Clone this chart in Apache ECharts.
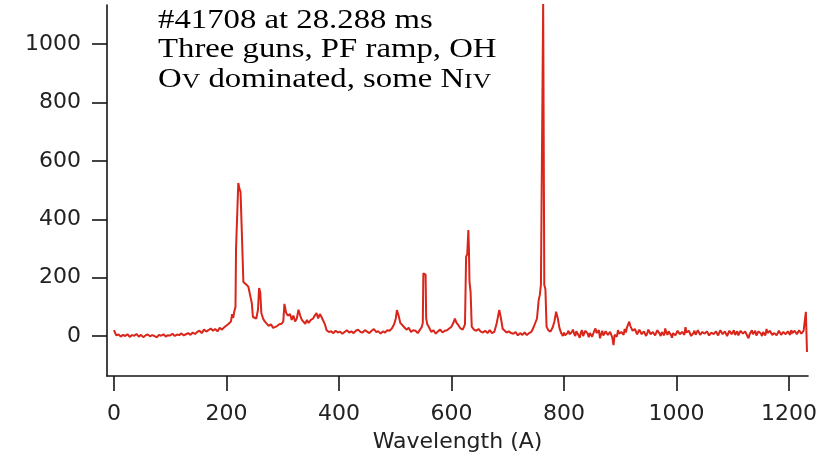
<!DOCTYPE html>
<html><head><meta charset="utf-8">
<script src="https://cdn.jsdelivr.net/npm/echarts@6/dist/echarts.min.js"></script>
<style>html,body{margin:0;padding:0;background:#fff}#c{width:825px;height:464px}</style>
</head><body><div id="c"></div>
<script>
// Wavelength (A) sample positions
const wavelength = [
  0,4,8,12,16,20,24,28,32,36,
  40,44,48,52,56,60,64,68,72,76,
  80,84,88,92,96,100,104,108,112,116,
  120,124,128,132,136,140,144,148,
  152,156,160,164,168,172,176,180,184,188,
  192,196,200,204,208,210,212,214,216,
  217,219,221,223,225,227,229,230,233,236,
  239,242,245,247,250,253,256,258,260,262,
  265,268,271,275,279,283,286,290,294,298,
  301,303,306,309,313,316,319,322,325,328,
  331,334,337,340,343,346,350,354,357,360,
  363,366,369,372,375,378,
  382,386,390,394,398,402,406,410,414,418,
  422,426,430,434,438,442,446,450,454,458,
  462,466,470,474,478,482,486,490,494,498,
  501,503,506,509,512,516,520,524,528,532,
  536,540,544,547,549,
  550,552,554,555,557,560,564,568,572,576,
  580,584,588,592,596,600,604,606,609,612,
  616,620,624,626,628,630,631,632,634,636,
  640,644,648,652,656,660,664,668,672,676,
  680,683,685,688,691,694,698,702,706,710,
  714,718,722,726,730,734,738,742,746,749,
  752,755,757,759,761,763,765,767,769,772,
  776,780,783,786,789,792,795,798,
  800,802,804,806,808,810,812,814,816,818,
  820,822,824,826,828,830,832,834,836,838,
  840,842,844,846,848,850,852,854,856,858,
  860,862,864,866,868,870,872,874,876,878,
  880,882,884,886,888,890,892,894,896,898,
  900,902,904,906,908,910,912,914,916,918,
  920,922,924,926,928,930,932,934,936,938,
  940,942,944,946,948,950,952,954,956,958,
  960,962,964,966,968,970,972,974,976,978,
  980,982,984,986,988,990,992,994,996,998,
  1000,1002,1004,1006,1008,1010,1012,1014,1016,1018,
  1020,1022,1024,1026,1028,1030,1032,1034,1036,1038,
  1040,1042,1044,1046,1048,1050,1052,1054,1056,1058,
  1060,1062,1064,1066,1068,1070,1072,1074,1076,1078,
  1080,1082,1084,1086,1088,1090,1092,1094,1096,1098,
  1100,1102,1104,1106,1108,1110,1112,1114,1116,1118,
  1120,1122,1124,1126,1128,1130,1132,1134,1136,1138,
  1140,1142,1144,1146,1148,1150,1152,1154,1156,1158,
  1160,1162,1164,1166,1168,1170,1172,1174,1176,1178,
  1180,1182,1184,1186,1188,1190,1192,1194,1196,1198,
  1200,1202,1204,1206,1208,1210,1212,1214,1216,1218,
  1220,1222,1224,1226,1228,1230,1232
];
// Intensity at each wavelength
const intensity = [
  20,2,5,-2,4,0,6,-3,3,1,
  7,-2,4,-4,2,5,-1,3,0,-5,
  4,1,6,-2,3,2,8,0,5,3,
  9,2,6,10,4,12,7,14,
  18,10,22,15,20,26,18,24,16,28,
  22,30,36,42,50,75,62,85,100,
  300,300,524,505,493,373,250,185,180,175,
  168,140,113,65,70,60,90,164,150,79,
  60,50,45,35,40,28,27,34,40,42,
  50,110,80,70,75,55,70,50,60,90,
  70,55,50,42,55,45,55,60,70,79,
  60,75,65,60,40,20,
  14,16,10,18,12,15,8,14,20,12,
  16,10,18,22,14,12,20,15,10,18,
  24,14,16,8,16,12,20,18,26,40,
  60,89,70,45,40,30,22,28,14,20,
  18,10,22,30,45,
  215,219,210,60,40,30,14,20,8,16,
  22,12,18,20,26,32,48,60,45,38,
  26,22,40,272,280,363,300,186,150,32,
  22,18,24,15,12,18,10,20,10,14,
  40,70,89,60,25,20,12,16,10,8,
  14,2,10,4,12,3,10,14,30,35,
  60,123,140,175,170,1140,175,160,32,20,
  15,30,50,83,60,27,10,0,
  12,2,-2,10,18,6,4,14,22,8,
  0,16,14,2,-6,12,20,0,6,18,
  24,8,-4,10,16,-2,2,18,26,10,
  8,20,-8,6,18,2,4,16,22,4,
  0,14,12,-6,-31,4,10,-2,20,8,
  2,14,16,4,24,12,30,36,49,34,
  28,18,14,24,20,6,8,22,18,6,
  4,16,14,0,10,22,20,6,2,14,
  16,2,6,20,22,8,0,14,12,2,
  26,12,4,16,18,4,-6,10,14,2,
  8,18,22,6,2,14,16,4,30,12,
  6,18,12,0,-4,10,18,4,8,20,
  14,4,2,14,20,8,6,16,10,2,
  -2,12,16,6,4,16,12,2,8,20,
  18,6,2,16,14,0,6,18,20,6,
  10,20,4,10,16,2,8,18,22,8,
  2,16,14,0,-8,6,12,20,6,12,
  18,2,4,16,20,8,0,14,12,2,
  24,10,6,18,14,4,-2,10,16,2,
  8,18,12,4,2,14,18,6,6,16,
  14,4,20,10,4,18,16,6,8,20,
  22,8,10,18,14,83,-55
];
const xTicks = [0, 200, 400, 600, 800, 1000, 1200];
const yTicks = [0, 200, 400, 600, 800, 1000];
const xTitle = 'Wavelength (A)';
const noteLines = [
  '{n|#41708 at 28.288 ms}',
  '{n|Three guns, PF ramp, OH}',
  '{n|O}{s|V}{n| dominated, some N}{s|IV}'
];

const chart = echarts.init(document.getElementById('c'), null, {renderer: 'canvas'});
const points = wavelength.map((w, i) => [w, intensity[i]]);
const axisColor = '#151515';
const labelFont = {fontFamily: 'DejaVu Sans', fontSize: 22, color: '#222', formatter: v => String(v)};

chart.setOption({
  animation: false,
  backgroundColor: '#fff',
  grid: {left: 107, right: 17, top: 5, bottom: 88, containLabel: false},
  xAxis: {
    type: 'value', min: -12.4, max: 1233.8,
    axisLine: {show: true, onZero: false, lineStyle: {color: axisColor, width: 1.6}},
    axisTick: {show: true, inside: false, length: 15, customValues: xTicks, lineStyle: {color: axisColor, width: 1.6}},
    axisLabel: Object.assign({customValues: xTicks, margin: 27}, labelFont),
    splitLine: {show: false},
    name: xTitle, nameLocation: 'middle', nameGap: 55,
    nameTextStyle: {fontFamily: 'DejaVu Sans', fontSize: 22, color: '#222'}
  },
  yAxis: {
    type: 'value', min: -137, max: 1134,
    axisLine: {show: true, onZero: false, lineStyle: {color: axisColor, width: 1.6}},
    axisTick: {show: true, inside: false, length: 15, customValues: yTicks, lineStyle: {color: axisColor, width: 1.6}},
    axisLabel: Object.assign({customValues: yTicks, margin: 26}, labelFont),
    splitLine: {show: false}
  },
  series: [{
    type: 'line', data: points, showSymbol: false, symbol: 'none',
    sampling: null, clip: true,
    lineStyle: {color: '#d9251a', width: 2},
    itemStyle: {color: '#d9251a'}
  }],
  graphic: [{
    type: 'text', x: 158, y: 5, scaleX: 1.17, scaleY: 1, z: 10,
    style: {
      text: noteLines.join('\n'),
      fill: '#000',
      fontFamily: 'Liberation Serif', fontSize: 28, lineHeight: 29.5,
      rich: {
        n: {fontFamily: 'Liberation Serif', fontSize: 28, lineHeight: 29.5, verticalAlign: 'bottom', fill: '#000'},
        s: {fontFamily: 'Liberation Serif', fontSize: 22, lineHeight: 29.5, verticalAlign: 'bottom', fill: '#000'}
      }
    }
  }]
});
</script></body></html>
